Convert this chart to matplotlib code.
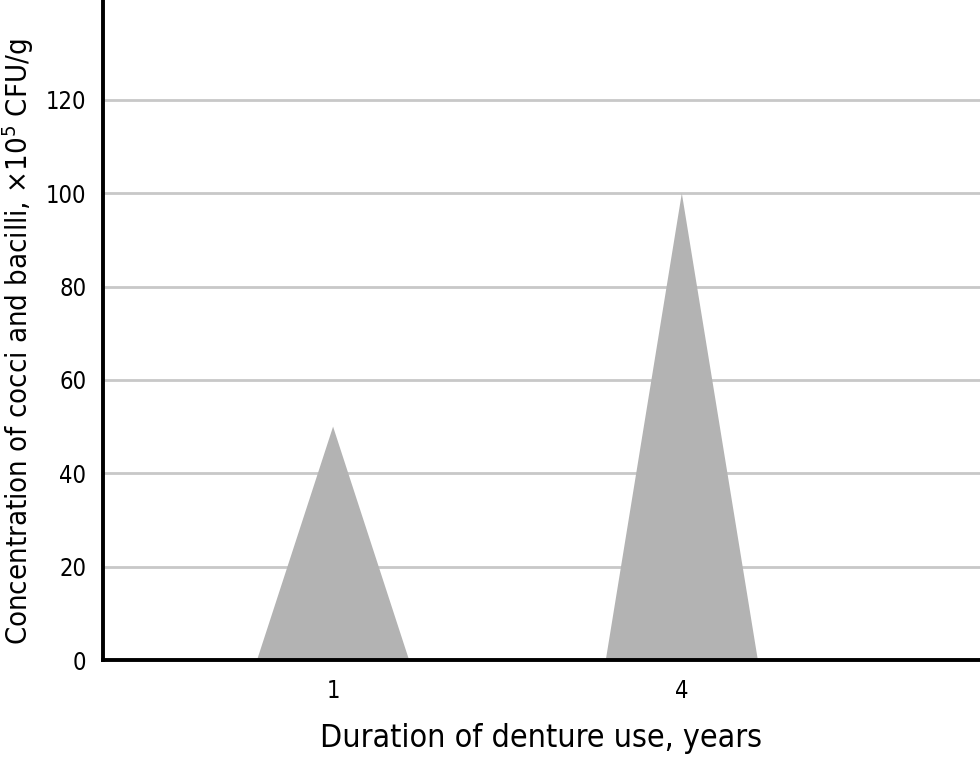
import matplotlib
matplotlib.use("Agg")
import matplotlib.pyplot as plt
from matplotlib import font_manager

# Data
years = ["1", "4"]
concentration = [50, 100]  # x10^5 CFU/g
yticks = [0, 20, 40, 60, 80, 100, 120]

names = {f.name for f in font_manager.fontManager.ttflist}
if "Liberation Sans Narrow" in names:
    plt.rcParams["font.family"] = "Liberation Sans Narrow"
else:
    plt.rcParams["font.family"] = "DejaVu Sans"
    plt.rcParams["font.stretch"] = "condensed"

fig = plt.figure(figsize=(9.8, 7.61), dpi=100)
ax = fig.add_axes([0.105, 0.1327, 0.895, 0.8673])

half = 0.218
for i, v in enumerate(concentration):
    ax.fill([i - half, i, i + half], [0, v, 0], color="#b3b3b3", lw=0, zorder=2)

ax.set_xlim(-0.66, 1.855)
ax.set_ylim(0, 141.4)
ax.set_xticks(range(len(years)))
ax.set_xticklabels(years)
ax.set_yticks(yticks)
ax.yaxis.grid(True, color="#c8c8c8", lw=2, zorder=0)
ax.set_axisbelow(True)
ax.tick_params(axis="both", length=0, labelsize=17, pad=12)
ax.tick_params(axis="x", pad=14)

for s in ["top", "right"]:
    ax.spines[s].set_visible(False)
for s in ["left", "bottom"]:
    ax.spines[s].set_linewidth(2.8)
    ax.spines[s].set_color("black")

ax.set_xlabel("Duration of denture use, years", fontsize=23, labelpad=14)
ax.set_ylabel(r"Concentration of cocci and bacilli, ×10$^5$ CFU/g", fontsize=21)
ax.yaxis.set_label_coords(-0.076, 0.482)

fig.savefig("out.png", dpi=100)
